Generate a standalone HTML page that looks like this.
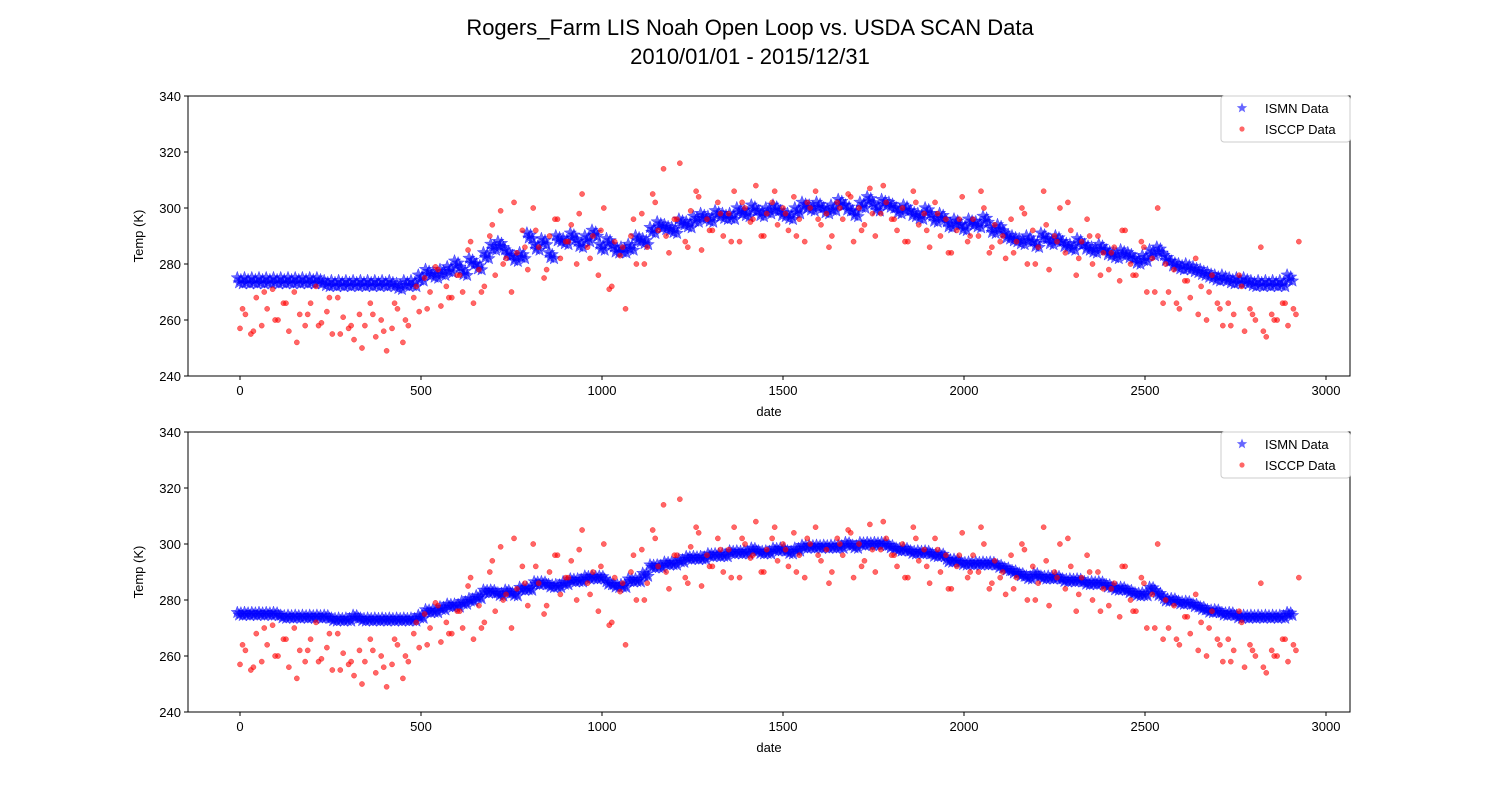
<!DOCTYPE html>
<html><head><meta charset="utf-8"><style>
body{margin:0;background:#fff;}
svg{display:block;font-family:"Liberation Sans","DejaVu Sans",sans-serif;}
</style></head><body>
<svg id="chart" width="1500" height="800" viewBox="0 0 1500 800">
<text x="750" y="35" text-anchor="middle" font-size="22">Rogers_Farm LIS Noah Open Loop vs. USDA SCAN Data</text>
<text x="750" y="64" text-anchor="middle" font-size="22">2010/01/01 - 2015/12/31</text>
</svg>
<script>
const xTicks=[0,500,1000,1500,2000,2500,3000];
const yTicks=[240,260,280,300,320,340];
const blueStep=20;
const blueTop=[274,274,274,274,274,274,274,274,274,274,274,274,273,273,273,273,273,273,273,273,
273,273,272,273,273,275,277,276,277,278,280,277,281,279,283,286,287,284,282,283,
290,286,288,283,289,288,290,287,289,291,286,288,285,285,286,289,288,292,294,293,
292,295,294,296,297,296,298,297,297,299,298,300,298,299,300,298,297,299,301,300,
301,299,300,302,300,298,301,303,300,302,301,299,300,298,297,299,296,297,294,295,
293,295,294,296,292,293,290,289,288,289,287,290,288,289,287,286,288,286,285,286,
284,283,284,283,281,282,284,285,282,280,279,279,278,277,276,275,275,274,274,274,
273,273,273,273,273,275];
const blueBottom=[275,275,275,275,275,275,274,274,274,274,274,274,274,273,273,273,274,273,273,273,
273,273,273,273,273,274,276,276,277,278,278,279,280,281,283,283,282,283,282,284,
284,286,286,285,285,286,287,287,288,288,288,286,285,285,287,287,289,292,292,293,
293,294,295,295,295,296,296,296,297,297,297,298,297,297,298,298,297,298,299,299,
299,299,299,299,300,299,300,300,300,300,299,298,298,297,297,297,296,296,294,294,
293,293,293,293,293,292,291,290,289,288,289,288,288,288,287,287,287,286,286,286,
285,284,284,283,282,282,284,282,280,280,279,279,278,277,276,276,275,275,274,274,
274,274,274,274,274,275];
const redStep=15;
const redA=[257,262,255,268,258,264,271,260,266,256,270,
262,258,266,272,259,263,255,268,261,257,
253,262,258,266,254,260,249,257,264,252,
258,268,263,275,270,279,265,272,268,276,
270,285,266,278,272,290,276,299,282,270,
284,292,278,300,286,275,290,296,282,288,
294,280,305,286,290,276,300,271,288,283,
264,290,280,298,286,305,292,314,284,296,
316,288,299,306,285,296,292,302,290,298,
306,288,300,295,308,290,298,302,294,300,
292,304,296,288,300,306,294,298,290,302,
296,305,288,300,294,307,290,298,302,296,
292,300,288,306,294,298,286,302,290,296,
284,292,304,288,296,290,300,284,294,288,
282,296,288,300,280,292,286,306,278,290,
300,284,292,276,288,296,280,290,284,278,
286,274,292,280,276,288,270,282,300,266,
270,278,264,274,268,282,272,260,276,266,
258,266,262,276,256,264,260,286,254,262,
260,266,258,264,288];
const redStep2=30, redOffset2=7;
const redB=[264,256,270,260,266,252,262,258,268,255,
258,250,262,256,266,260,272,264,278,268,
276,288,270,294,280,302,286,292,278,296,
288,298,282,292,272,286,296,280,302,290,
296,286,304,292,298,288,302,296,290,306,
298,290,302,296,286,300,304,292,298,308,
296,288,302,292,298,284,296,290,306,286,
290,284,298,280,294,288,302,282,290,276,
284,292,276,286,270,280,266,274,262,270,
264,258,272,262,256,260,266,262];

const NS="http://www.w3.org/2000/svg";
const svg=document.getElementById('chart');
function mk(tag,attrs,parent){const e=document.createElementNS(NS,tag);for(const k in attrs)e.setAttribute(k,attrs[k]);(parent||svg).appendChild(e);return e;}
const L=188,R=1350,x0=240,pxPer=(1326-240)/3000;
function X(v){return x0+v*pxPer;}
function starPts(cx,cy,r){let p=[];for(let i=0;i<10;i++){const a=-Math.PI/2+i*Math.PI/5;const rr=i%2?r*0.42:r;p.push((cx+rr*Math.cos(a)).toFixed(1)+','+(cy+rr*Math.sin(a)).toFixed(1));}return p.join(' ');}

const clusterDx=[-7.5,-2.5,2.5,7.5];
function panel(top,blue,idx,dyPattern){
  const bot=top+280;
  function Y(v){return bot-(v-240)*2.8;}
  const g=mk('g',{});
  
  
  const clip=mk('clipPath',{id:'clip'+idx},g);
  mk('rect',{x:L,y:top,width:R-L,height:280},clip);
  const pts=mk('g',{'clip-path':'url(#clip'+idx+')'},g);
  
  
  blue.forEach((v,i)=>{
    clusterDx.forEach((dx,k)=>{
      const s=mk('polygon',{points:starPts(X(i*blueStep+dx),Y(v)+dyPattern[k],6.5),fill:'#0000ff','fill-opacity':0.6,stroke:'#0000ff','stroke-opacity':0.6,'stroke-width':0.5},pts);
      
      
    });
  });
  redA.forEach((v,i)=>{
    const c=mk('circle',{cx:X(i*redStep),cy:Y(v),r:2.6,fill:'#ff0000','fill-opacity':0.6,stroke:'#ff0000','stroke-opacity':0.6,'stroke-width':0.5},pts);
    
    
  });
  redB.forEach((v,i)=>{
    const c=mk('circle',{cx:X(redOffset2+i*redStep2),cy:Y(v),r:2.6,fill:'#ff0000','fill-opacity':0.6,stroke:'#ff0000','stroke-opacity':0.6,'stroke-width':0.5},pts);
    
    
  });
  const fr=mk('rect',{x:L,y:top,width:R-L,height:280,fill:'none',stroke:'#000','stroke-width':1},g);
  
  
  xTicks.forEach(t=>{
    mk('line',{x1:X(t),x2:X(t),y1:bot,y2:bot+4,stroke:'#000'},g);
    const tx=mk('text',{x:X(t),y:bot+19,'text-anchor':'middle','font-size':13},g);
    tx.textContent=t;
    
    
  });
  yTicks.forEach(t=>{
    mk('line',{x1:L-4,x2:L,y1:Y(t),y2:Y(t),stroke:'#000'},g);
    const tx=mk('text',{x:L-7,y:Y(t)+5,'text-anchor':'end','font-size':13},g);
    tx.textContent=t;
    
    
  });
  const xl=mk('text',{x:769,y:bot+40,'text-anchor':'middle','font-size':13},g);
  xl.textContent='date';
  
  
  const yl=mk('text',{x:143,y:top+140,'text-anchor':'middle','font-size':13,transform:'rotate(-90 143 '+(top+140)+')'},g);
  yl.textContent='Temp (K)';
  
  
  const lg=mk('g',{},g);
  
  
  mk('rect',{x:1221,y:top,width:129,height:46,fill:'#fff','fill-opacity':0.8,stroke:'#ccc',rx:3},lg);
  mk('polygon',{points:starPts(1242,top+12,5.5),fill:'#0000ff','fill-opacity':0.6},lg);
  const t1=mk('text',{x:1265,y:top+17,'font-size':13},lg);t1.textContent='ISMN Data';
  
  
  mk('circle',{cx:1242,cy:top+33,r:2.6,fill:'#ff0000','fill-opacity':0.6},lg);
  const t2=mk('text',{x:1265,y:top+38,'font-size':13},lg);t2.textContent='ISCCP Data';
  
  
}
panel(96,blueTop,1,[-3,2,-1,3]);
panel(432,blueBottom,2,[-1.5,1,-1,1.5]);
</script>
</body></html>
